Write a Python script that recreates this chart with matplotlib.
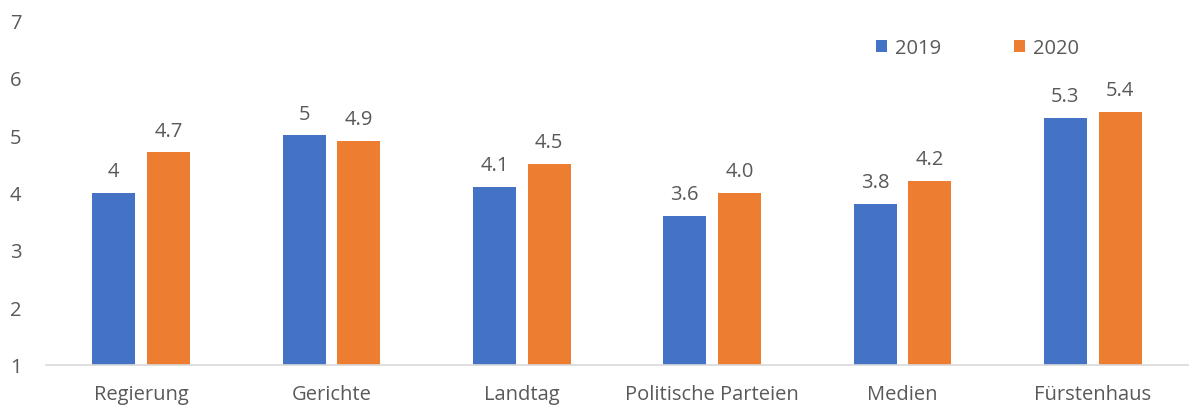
import matplotlib
matplotlib.use("Agg")
import matplotlib.pyplot as plt
import numpy as np

categories = ["Regierung", "Gerichte", "Landtag", "Politische Parteien", "Medien", "Fürstenhaus"]
values_2019 = [4.0, 5.0, 4.1, 3.6, 3.8, 5.3]
values_2020 = [4.7, 4.9, 4.5, 4.0, 4.2, 5.4]
labels_2019 = ["4", "5", "4.1", "3.6", "3.8", "5.3"]
labels_2020 = ["4.7", "4.9", "4.5", "4.0", "4.2", "5.4"]
series_names = ["2019", "2020"]

plt.rcParams['font.family'] = ['Open Sans', 'DejaVu Sans']
txt = "#595959"
blue = "#4472C4"
orange = "#ED7D31"
fs = 14.5

fig = plt.figure(figsize=(11.9, 4.1), dpi=100)
ax = fig.add_axes([46/1190, 1-366/410, 1142/1190, (366-21)/410])

x = np.arange(len(categories))
w = 0.225
off = 0.144
ax.bar(x - off, np.array(values_2019) - 1, w, bottom=1, color=blue, label=series_names[0])
ax.bar(x + off, np.array(values_2020) - 1, w, bottom=1, color=orange, label=series_names[1])

for xi, v, l in zip(x - off, values_2019, labels_2019):
    ax.text(xi, v + 0.2, l, ha="center", va="bottom", fontsize=fs, color=txt)
for xi, v, l in zip(x + off, values_2020, labels_2020):
    ax.text(xi, v + 0.2, l, ha="center", va="bottom", fontsize=fs, color=txt)

ax.set_xlim(-0.5, len(categories) - 0.5)
ax.set_ylim(1, 7)
ax.set_yticks(range(1, 8))
ax.set_xticks(x)
ax.set_xticklabels(categories)
ax.tick_params(axis="both", length=0, labelsize=fs, colors=txt)
ax.tick_params(axis="x", pad=14)
ax.tick_params(axis="y", pad=26)
for lab in ax.get_yticklabels():
    lab.set_horizontalalignment("left")
for s in ["top", "right", "left"]:
    ax.spines[s].set_visible(False)
ax.spines["bottom"].set_color("#D9D9D9")
ax.spines["bottom"].set_linewidth(1.2)

leg = ax.legend(loc="upper left", bbox_to_anchor=((858-46)/1142, (366-21)/345), ncol=2,
                frameon=False, fontsize=fs, handlelength=0.55, handleheight=0.55,
                handletextpad=0.4, columnspacing=3.6, labelcolor=txt)

fig.savefig("out.png", dpi=100)
